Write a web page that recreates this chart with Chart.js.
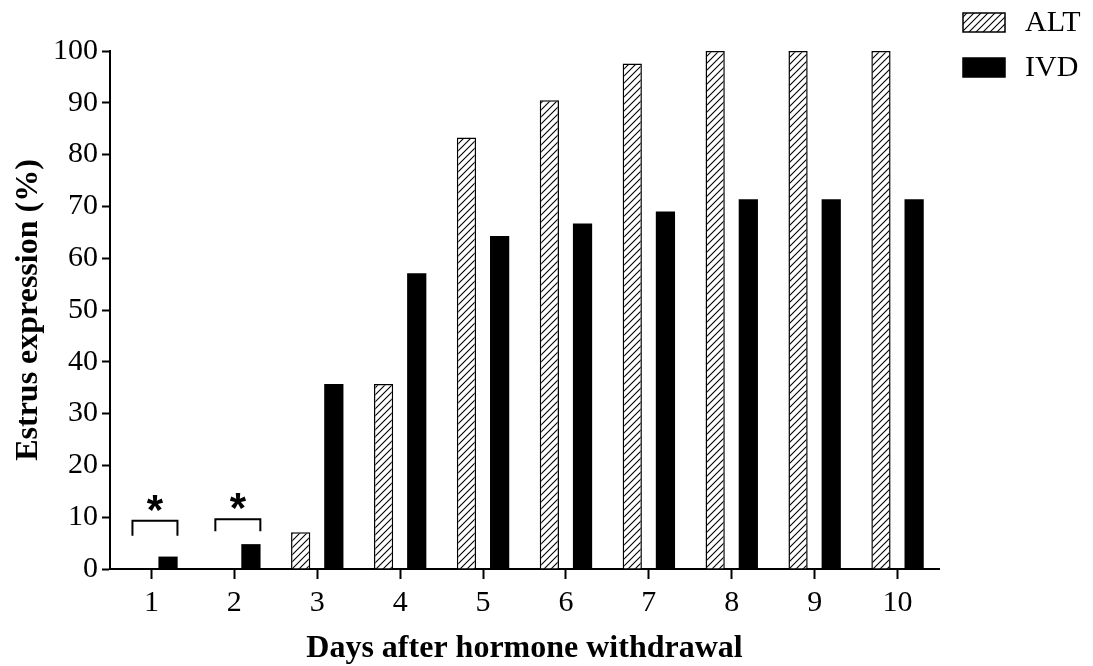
<!DOCTYPE html>
<html>
<head>
<meta charset="utf-8">
<script src="https://cdn.jsdelivr.net/npm/chart.js@4.4.1/dist/chart.umd.min.js"></script>
<style>
  html, body { margin: 0; padding: 0; background: #fff; }
  #wrap { width: 1093px; height: 666px; }
</style>
</head>
<body>
<div id="wrap"><canvas id="chart" width="1093" height="666"></canvas></div>
<script>
const days = ["1", "2", "3", "4", "5", "6", "7", "8", "9", "10"];
const altValues = [0, 0, 7.1, 35.7, 83.3, 90.5, 97.6, 100, 100, 100];
const ivdValues = [2.4, 4.8, 35.7, 57.1, 64.3, 66.7, 69.0, 71.4, 71.4, 71.4];
const yTicks = [0, 10, 20, 30, 40, 50, 60, 70, 80, 90, 100];

// significance brackets (day index, top of bracket, bottom of legs)
const sigDays = [0, 1];
const sigTop = [9.3, 9.6];
const sigLeg = [6.4, 7.3];
const sigStar = [12.6, 13.0];

const serif = "'Liberation Serif', 'Times New Roman', serif";

function hatch() {
  const c = document.createElement("canvas");
  c.width = 7; c.height = 7;
  const g = c.getContext("2d");
  g.fillStyle = "#fff";
  g.fillRect(0, 0, 7, 7);
  g.strokeStyle = "#000";
  g.lineWidth = 1.1;
  g.beginPath();
  g.moveTo(-1, 8); g.lineTo(8, -1);
  g.moveTo(-1, 1); g.lineTo(1, -1);
  g.moveTo(6, 8); g.lineTo(8, 6);
  g.stroke();
  return g.createPattern(c, "repeat");
}
const hatchFill = hatch();

const sigPlugin = {
  id: "sig",
  afterDatasetsDraw(chart) {
    const ctx = chart.ctx, x = chart.scales.x, y = chart.scales.y;
    ctx.save();
    ctx.strokeStyle = "#000";
    ctx.lineWidth = 2;
    sigDays.forEach((d, i) => {
      const cx = x.getPixelForValue(d);
      const l = cx - 19, r = cx + 26;
      const t = y.getPixelForValue(sigTop[i]), b = y.getPixelForValue(sigLeg[i]);
      ctx.beginPath();
      ctx.moveTo(l, b); ctx.lineTo(l, t); ctx.lineTo(r, t); ctx.lineTo(r, b);
      ctx.stroke();
      ctx.fillStyle = "#000";
      ctx.font = "bold 42px 'Liberation Sans', Arial, sans-serif";
      ctx.textAlign = "center";
      ctx.textBaseline = "middle";
      ctx.fillText("*", (l + r) / 2, y.getPixelForValue(sigStar[i]) + 9);
    });
    ctx.restore();
  }
};

const legendPlugin = {
  id: "sideLegend",
  afterDraw(chart) {
    const ctx = chart.ctx;
    ctx.save();
    chart.data.datasets.forEach((ds, i) => {
      const top = 13 + i * 45;
      ctx.fillStyle = ds.backgroundColor;
      ctx.fillRect(963, top, 42, 19);
      ctx.strokeStyle = "#000";
      ctx.lineWidth = 1.5;
      ctx.strokeRect(963, top, 42, 19);
      ctx.fillStyle = "#000";
      ctx.font = "30px " + serif;
      ctx.textAlign = "left";
      ctx.textBaseline = "middle";
      ctx.fillText(ds.label, 1025, top + 10);
    });
    ctx.restore();
  }
};

new Chart(document.getElementById("chart"), {
  type: "bar",
  data: {
    labels: days,
    datasets: [
      { label: "ALT", data: altValues, backgroundColor: hatchFill, borderColor: "#000", borderWidth: 1.5 },
      { label: "IVD", data: ivdValues, backgroundColor: "#000", borderColor: "#000", borderWidth: 0 }
    ]
  },
  options: {
    responsive: false,
    animation: false,
    layout: { padding: { top: 51, right: 154, bottom: 0, left: 0 } },
    datasets: { bar: { categoryPercentage: 0.8, barPercentage: 0.58 } },
    plugins: { legend: { display: false }, tooltip: { enabled: false } },
    scales: {
      x: {
        grid: { display: true, drawOnChartArea: false, offset: false, tickLength: 10, tickWidth: 2, tickColor: "#000" },
        border: { color: "#000", width: 2 },
        ticks: { color: "#000", font: { family: serif, size: 30 }, padding: 6 },
        title: { display: true, text: "Days after hormone withdrawal", color: "#000",
                 font: { family: serif, size: 32, weight: "bold" }, padding: { top: 4, bottom: -2 } },
        afterFit(s) { s.height = 97; }
      },
      y: {
        min: 0, max: 100,
        afterBuildTicks(s) { s.ticks = yTicks.map(v => ({ value: v })); },
        grid: { display: true, drawOnChartArea: false, tickLength: 8, tickWidth: 2, tickColor: "#000" },
        border: { color: "#000", width: 2 },
        ticks: { color: "#000", font: { family: serif, size: 30 }, padding: 4 },
        title: { display: true, text: "Estrus expression (%)", color: "#000",
                 font: { family: serif, size: 32, weight: "bold" }, padding: { top: 10, bottom: 6 } },
        afterFit(s) { s.width = 110; }
      }
    }
  },
  plugins: [sigPlugin, legendPlugin]
});
</script>
</body>
</html>
